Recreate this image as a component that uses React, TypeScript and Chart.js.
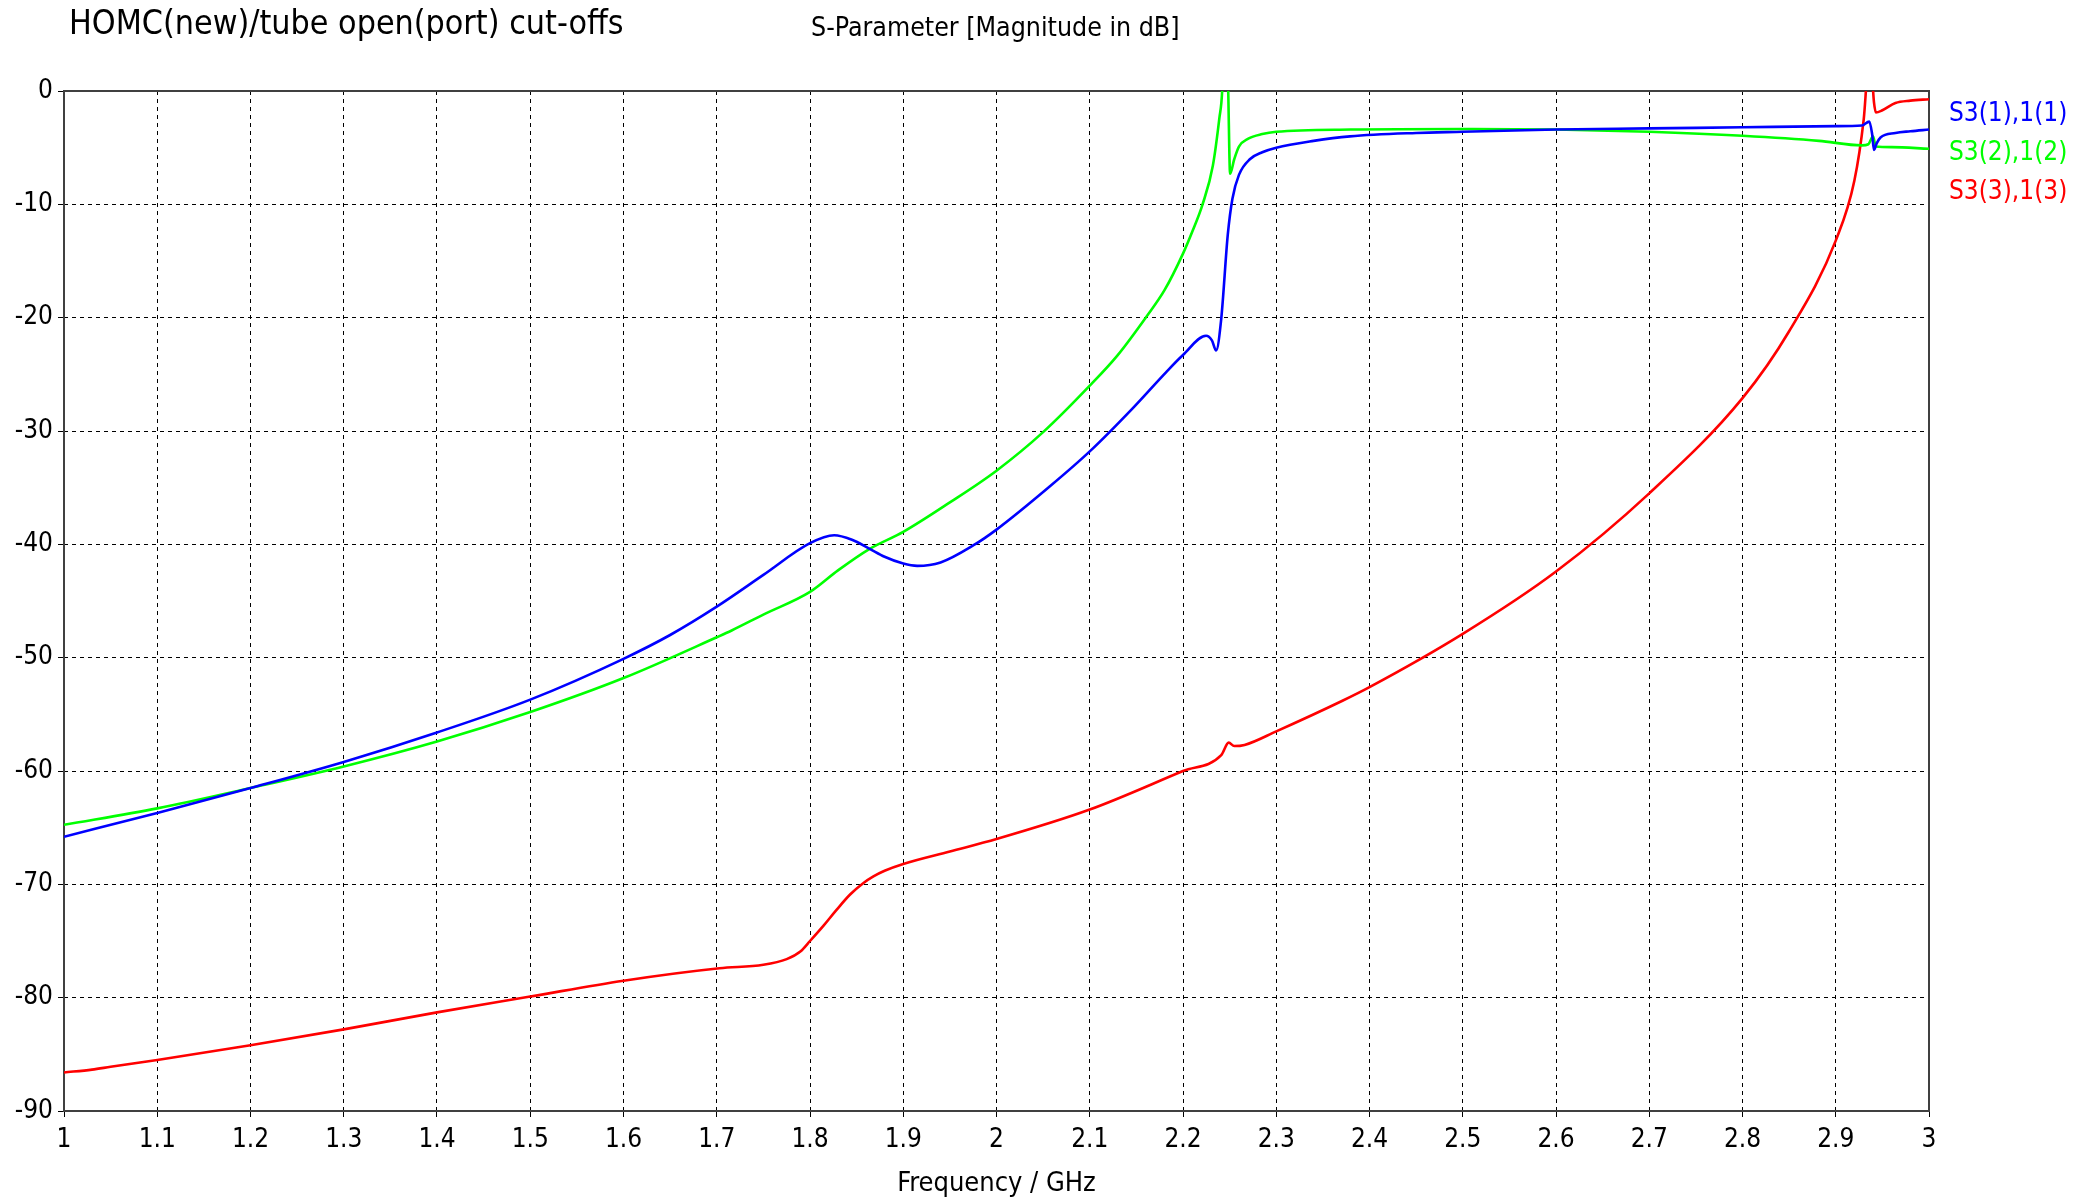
import { useEffect, useRef } from "react";
import { Chart, registerables } from "chart.js";

Chart.register(...registerables);

const W = 2091;
const H = 1202;
const FONT = "'DejaVu Sans Condensed', 'DejaVu Sans', sans-serif";

const chartTitle = "HOMC(new)/tube open(port) cut-offs";
const chartSubtitle = "S-Parameter [Magnitude in dB]";
const xAxisTitle = "Frequency / GHz";

const seriesNames = ["S3(1),1(1)", "S3(2),1(2)", "S3(3),1(3)"];
const seriesColors = ["#0000ff", "#00ff00", "#ff0000"];

const xMin = 1;
const xMax = 3;
const xStep = 0.1;
const yMin = -90;
const yMax = 0;
const yStep = 10;

// S3(1),1(1) — blue
const s11Freq = [
  1.0, 1.1, 1.2, 1.3, 1.4, 1.5, 1.6, 1.65, 1.7, 1.75, 1.8, 1.826, 1.845, 1.864, 1.88, 1.9, 1.915,
  1.94, 1.975, 2.0, 2.057, 2.1, 2.146, 2.182, 2.2, 2.2247, 2.231, 2.2355, 2.241, 2.248, 2.253, 2.26,
  2.272, 2.285, 2.3, 2.34, 2.379, 2.45, 2.5, 2.6, 2.7, 2.8, 2.9, 2.928, 2.936, 2.939, 2.941, 2.944,
  2.948, 2.964, 2.98, 3.0,
];
const s11dB = [
  -65.8, -63.7, -61.5, -59.2, -56.6, -53.7, -50.1, -48.0, -45.5, -42.7, -39.9, -39.2, -39.6, -40.4,
  -41.1, -41.7, -41.9, -41.6, -40.1, -38.7, -34.9, -31.8, -28.0, -24.8, -23.3, -21.6, -22.0, -22.9,
  -20.1, -12.7, -9.5, -7.4, -6.0, -5.4, -5.0, -4.4, -4.0, -3.7, -3.6, -3.4, -3.3, -3.2, -3.1, -3.05,
  -2.7, -3.8, -5.2, -4.6, -4.1, -3.7, -3.55, -3.4,
];

// S3(2),1(2) — green
const s21Freq = [
  1.0, 1.1, 1.2, 1.3, 1.4, 1.5, 1.6, 1.7, 1.716, 1.75, 1.8, 1.83, 1.864, 1.9, 1.95, 2.0, 2.05, 2.1,
  2.13, 2.16, 2.18, 2.2, 2.21, 2.221, 2.232, 2.239, 2.242, 2.244, 2.247, 2.2485, 2.2505, 2.255, 2.26,
  2.27, 2.285, 2.3, 2.38, 2.5, 2.6, 2.7, 2.8, 2.882, 2.928, 2.935, 2.94, 2.943, 2.96, 3.0,
];
const s21dB = [
  -64.75, -63.3, -61.5, -59.6, -57.4, -54.8, -51.8, -48.2, -47.6, -46.2, -44.2, -42.3, -40.4, -38.9,
  -36.3, -33.5, -30.1, -26.0, -23.3, -20.0, -17.6, -14.35, -12.4, -10.0, -6.6, -2.4, 0, 5, 5, 0, -7.3,
  -6.0, -4.9, -4.2, -3.8, -3.6, -3.4, -3.35, -3.4, -3.6, -3.95, -4.4, -4.8, -4.7, -4.0, -4.9, -4.95,
  -5.1,
];

// S3(3),1(3) — red
const s31Freq = [
  1.0, 1.03, 1.05, 1.1, 1.2, 1.3, 1.4, 1.5, 1.6, 1.703, 1.75, 1.775, 1.79, 1.8, 1.815, 1.828, 1.843,
  1.857, 1.868, 1.88, 1.9, 1.95, 2.0, 2.1, 2.2, 2.241, 2.249, 2.255, 2.266, 2.3, 2.371, 2.4, 2.5, 2.6,
  2.7, 2.8, 2.85, 2.9, 2.92, 2.93, 2.935, 2.938, 2.941, 2.943, 2.95, 2.964, 2.98, 3.0,
];
const s31dB = [
  -86.6, -86.35, -86.1, -85.5, -84.2, -82.8, -81.3, -79.9, -78.5, -77.4, -77.1, -76.6, -75.9, -75.0,
  -73.6, -72.3, -70.9, -69.9, -69.3, -68.8, -68.2, -67.1, -66.0, -63.4, -60.0, -58.6, -57.5, -57.8,
  -57.7, -56.5, -53.8, -52.6, -47.9, -42.4, -35.5, -27.1, -21.2, -13.2, -7.9, -2.5, 2, 2, -1.0, -1.9,
  -1.7, -1.06, -0.85, -0.73,
];

const toPoints = (xs: number[], ys: number[]) => xs.map((x, i) => ({ x, y: ys[i] }));

const overlayPlugin = {
  id: "overlay",
  beforeDatasetsDraw(chart: any) {
    const { ctx, chartArea: a } = chart;
    ctx.save();
    ctx.strokeStyle = "#404040";
    ctx.lineWidth = 2;
    ctx.setLineDash([]);
    ctx.strokeRect(a.left, a.top, a.right - a.left, a.bottom - a.top);
    ctx.restore();
  },
  afterDraw(chart: any) {
    const { ctx, chartArea: a } = chart;
    ctx.save();
    ctx.fillStyle = "#000";
    ctx.textBaseline = "middle";
    ctx.textAlign = "left";
    ctx.font = `33.7px ${FONT}`;
    ctx.fillText(chartTitle, 69, 25);
    ctx.font = `26.5px ${FONT}`;
    ctx.fillText(chartSubtitle, 811, 29);
    ctx.textAlign = "center";
    ctx.font = `27px ${FONT}`;
    ctx.fillText(xAxisTitle, (a.left + a.right) / 2, 1184);
    ctx.textAlign = "left";
    ctx.font = `26px ${FONT}`;
    seriesNames.forEach((name, i) => {
      ctx.fillStyle = seriesColors[i];
      ctx.fillText(name, 1949, 114 + i * 39);
    });
    ctx.restore();
  },
};

export default function App() {
  const ref = useRef<HTMLCanvasElement | null>(null);

  useEffect(() => {
    document.body.style.margin = "0";
    const canvas = ref.current;
    if (!canvas) return;
    const chart = new Chart(canvas, {
      type: "line",
      data: {
        datasets: [
          { label: seriesNames[0], data: toPoints(s11Freq, s11dB) },
          { label: seriesNames[1], data: toPoints(s21Freq, s21dB) },
          { label: seriesNames[2], data: toPoints(s31Freq, s31dB) },
        ].map((d, i) => ({
          ...d,
          borderColor: seriesColors[i],
          backgroundColor: seriesColors[i],
          borderWidth: 2.6,
          pointRadius: 0,
          cubicInterpolationMode: "monotone" as const,
          fill: false,
        })),
      },
      plugins: [overlayPlugin],
      options: {
        responsive: false,
        animation: false,
        devicePixelRatio: 1,
        layout: { padding: { top: 91, right: 162, left: 0, bottom: 0 } },
        plugins: {
          legend: { display: false },
          tooltip: { enabled: false },
          title: { display: false },
        },
        scales: {
          x: {
            type: "linear",
            min: xMin,
            max: xMax,
            afterFit: (s: any) => {
              s.height = 91;
            },
            ticks: {
              stepSize: xStep,
              autoSkip: false,
              maxRotation: 0,
              padding: 8,
              color: "#000",
              font: { family: FONT, size: 26 },
              callback: (v: any) => String(parseFloat(Number(v).toFixed(1))),
            },
            grid: {
              color: "#000",
              lineWidth: 1,
              drawTicks: true,
              tickLength: 6,
              tickColor: "#000",
              tickBorderDash: [],
            },
            border: { display: false, dash: [4, 4] },
          },
          y: {
            type: "linear",
            min: yMin,
            max: yMax,
            afterFit: (s: any) => {
              s.width = 64;
            },
            ticks: {
              stepSize: yStep,
              padding: 5,
              color: "#000",
              font: { family: FONT, size: 26 },
            },
            grid: {
              color: "#000",
              lineWidth: 1,
              drawTicks: true,
              tickLength: 6,
              tickColor: "#000",
              tickBorderDash: [],
            },
            border: { display: false, dash: [4, 4] },
          },
        },
      },
    } as any);
    return () => chart.destroy();
  }, []);

  return (
    <canvas
      ref={ref}
      width={W}
      height={H}
      style={{ position: "absolute", left: 0, top: 0, width: W, height: H, background: "#fff" }}
    />
  );
}
